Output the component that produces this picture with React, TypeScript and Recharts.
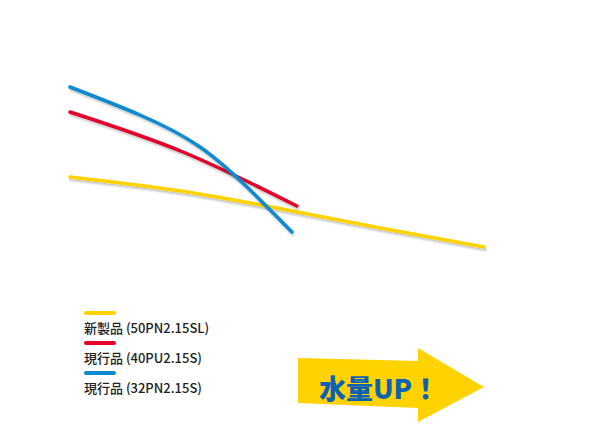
import React from 'react'
import { LineChart, Line, XAxis, YAxis } from 'recharts'

// flow (x) vs head (y)
const newFlow = [0, 25, 50, 75, 100]
const newHead = [10.3, 9.0, 7.2, 5.2, 3.3]

const cur40Flow = [0, 27.3, 54.8]
const cur40Head = [16.8, 12.8, 7.4]

const cur32Flow = [0, 16.9, 31.4, 43.5, 53.6]
const cur32Head = [19.3, 16.5, 13.3, 9.0, 4.8]

const seriesNames = ['新製品 (50PN2.15SL)', '現行品 (40PU2.15S)', '現行品 (32PN2.15S)']
const seriesColors = ['#FFD200', '#E3002A', '#0A8AD2']

const toPoints = (xs: number[], ys: number[]) => xs.map((x, i) => ({ flow: x, head: ys[i] }))

const series = [
  { name: seriesNames[0], color: seriesColors[0], data: toPoints(newFlow, newHead) },
  { name: seriesNames[1], color: seriesColors[1], data: toPoints(cur40Flow, cur40Head) },
  { name: seriesNames[2], color: seriesColors[2], data: toPoints(cur32Flow, cur32Head) }
]

const FONT = '"Noto Sans CJK JP", "Noto Sans", sans-serif'

export default function App() {
  return (
    <div style={{ position: 'absolute', left: 0, top: 0, width: 590, height: 424, background: '#fff', fontFamily: FONT }}>
      <LineChart width={590} height={424} data={series[0].data} margin={{ top: 60, right: 106, bottom: 144, left: 70 }}>
        <defs>
          <filter id="lineShadow" x="-10%" y="-10%" width="120%" height="130%">
            <feDropShadow dx="1" dy="2" stdDeviation="1" floodColor="#000" floodOpacity="0.25" />
          </filter>
        </defs>
        <XAxis type="number" dataKey="flow" domain={[0, 100]} hide />
        <YAxis type="number" domain={[0, 22]} hide />
        {series.map((s) => (
          <Line
            key={s.name}
            data={s.data}
            dataKey="head"
            name={s.name}
            type="natural"
            stroke={s.color}
            strokeWidth={3.5}
            strokeLinecap="round"
            dot={false}
            activeDot={false}
            filter="url(#lineShadow)"
            isAnimationActive={false}
          />
        ))}
      </LineChart>

      <div style={{ position: 'absolute', left: 84, top: 311 }}>
        {series.map((s) => (
          <div key={s.name} style={{ height: 30 }}>
            <div style={{ width: 32, height: 4, borderRadius: 2, background: s.color }} />
            <div style={{ fontSize: 13, fontWeight: 500, color: '#222', marginTop: 4, lineHeight: '17px', whiteSpace: 'nowrap' }}>{s.name}</div>
          </div>
        ))}
      </div>

      <svg width={590} height={424} style={{ position: 'absolute', left: 0, top: 0 }}>
        <polygon
          points="298,358 418,361 418,348 484,387 418,422 418,408 298,403"
          fill="#FFD200"
        />
        <text
          x={379}
          y={387}
          textAnchor="middle"
          dominantBaseline="central"
          fontFamily={FONT}
          fontWeight={900}
          fontSize={27}
          fill="#0B62B4"
        >
          水量UP！
        </text>
      </svg>
    </div>
  )
}
